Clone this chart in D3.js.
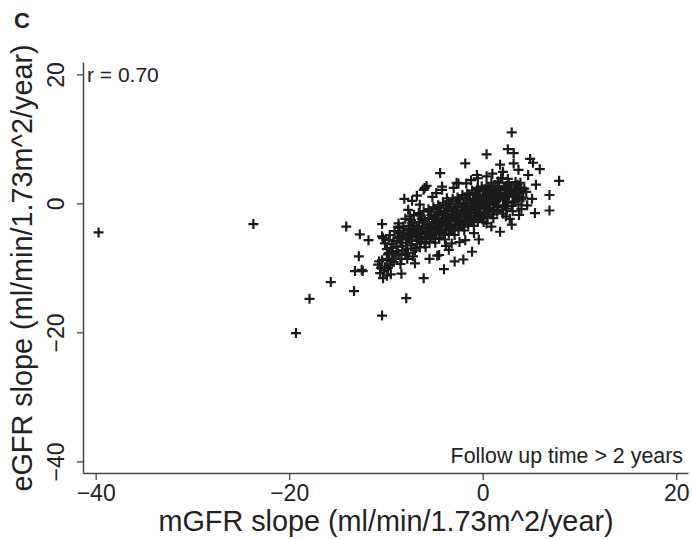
<!DOCTYPE html>
<html lang="en">
<head>
<meta charset="UTF-8">
<title>eGFR vs mGFR slope</title>
<script src="https://d3js.org/d3.v7.min.js"></script>
<style>
  body { margin: 0; background: #fff; }
  svg text { font-family: "Liberation Sans", Arial, sans-serif; fill: #222; }
</style>
</head>
<body>
<div id="chart"></div>
<script>
// [mGFR slope, eGFR slope] pairs
const sparsePoints = [
  [-39.7,-4.5],[-23.7,-3.2],[-19.3,-20.1],[-17.9,-14.8],[-15.7,-12.2],[-14.1,-3.6],
  [-12.7,-4.8],[-11.8,-5.7],[-12.8,-8.2],[-13.2,-10.5],[-12.4,-10.5],[-13.3,-13.6],
  [-10.4,-17.4],[-7.9,-14.7],[-6.1,-11.6],[-8.4,-10.9],[-10.4,-3.2],[-10.4,-5.1],
  [-9.9,-7.1],[-10.8,-9.5],[-10.6,-10.8],[-10.3,-11.6],[-9.8,-10.0],[-8.7,-3.8],
  [-4.0,-10.2],[-4.5,-8.0],[-2.0,-8.7],[-1.1,-7.5],[3.0,11.0],[2.6,8.4],[3.2,7.8],
  [4.9,6.9],[5.2,6.3],[5.9,5.3],[4.7,4.4],[3.2,6.2],[3.7,5.2],[1.8,6.0],[2.1,4.9],
  [7.9,3.5],[5.5,2.9],[6.9,1.3],[5.1,0.7],[3.9,2.1],[4.0,0.6],[5.4,-1.5],[6.9,-1.1],
  [0.4,7.6],[-1.8,6.2],[-5.8,2.7],[-4.4,4.7],[-2.7,3.2],[-0.5,3.9],[-8.1,0.7],
  [-7.3,0.4],[-7.7,-1.0],[-4.2,2.1],[1.8,-4.4],[0.4,-3.1],[2.4,-2.0],[2.3,-0.4],
  [-8.5,-9.4],[-7.2,-8.2],[-7.0,-9.3],[-4.7,-8.1],[-9.7,-7.7],[-8.7,-7.8],[-6.1,2.1],
  [-6.5,-0.2],[-8.7,-3.6],[-8.7,-4.6],[-10.4,-8.8],[-12.5,-10.3],[-0.6,4.4],[0.4,4.2],
  [-2.5,3.1],[-1.7,3.1],[-4.2,2.6],[-6.0,2.4],[-4.8,1.6],[2.0,3.9],[-3.7,0.8],
  [-0.5,2.4],[0.8,2.1],[-3.2,-6.2],[-1.8,-5.7],[3.75,-1.8],[3.0,-3.3],[-2.9,-9.0],
  [-9.5,-11.0],[-10.1,-9.9],[-9.2,-9.1],[-5.5,-8.6],[-3.5,-7.2],[-0.4,-5.6],
  [-10.7,-9.0],[-10.2,-10.4],[-10.5,-10.0],[-9.9,-11.2],
  [-6.8,1.2],[-5.2,1.0],[-3.0,2.4],[-1.2,3.6],[1.0,4.6],[-7.8,-8.6],
  [-3.8,-6.6],[-2.4,-6.0],[-0.9,-4.6],[0.9,-3.6],[2.8,-2.4],[4.6,-0.3],[4.5,1.8]
];

const densePoints = [
  [-10.1,-6.2],[-9.8,-7.9],[-10.3,-5.4],[-9.6,-4.9],[-9.9,-8.6],
  [-9.2,-5.8],[-8.9,-6.7],[-9.1,-4.3],[-8.8,-7.4],[-9.4,-6.3],[-8.6,-5.2],[-9.0,-8.1],[-8.7,-3.1],
  [-8.2,-5.0],[-7.9,-6.1],[-8.1,-4.2],[-7.8,-7.0],[-8.4,-5.6],[-7.6,-3.5],[-8.0,-8.0],[-7.7,-5.3],
  [-8.3,-6.6],[-7.5,-4.6],[-8.0,-2.4],
  [-7.2,-4.4],[-6.9,-5.2],[-7.1,-3.6],[-6.8,-6.3],[-7.3,-5.8],[-6.6,-2.9],[-7.0,-7.3],[-6.7,-4.1],
  [-7.4,-2.6],[-6.5,-5.6],[-7.1,-1.8],[-6.9,-6.9],[-7.3,-4.9],
  [-6.2,-3.8],[-5.9,-4.6],[-6.1,-3.0],[-5.8,-5.5],[-6.3,-4.3],[-5.6,-2.3],[-6.0,-6.2],[-5.7,-3.4],
  [-6.4,-1.9],[-5.5,-4.9],[-6.1,-1.2],[-5.9,-6.8],[-6.3,-5.2],[-5.6,-3.9],[-6.0,-2.7],
  [-5.2,-3.1],[-4.9,-4.0],[-5.1,-2.4],[-4.8,-4.8],[-5.3,-3.6],[-4.6,-1.7],[-5.0,-5.5],[-4.7,-2.9],
  [-5.4,-1.3],[-4.5,-4.3],[-5.1,-0.6],[-4.9,-6.1],[-5.3,-4.5],[-4.6,-3.4],[-5.0,-2.0],[-4.8,-0.9],[-5.2,-5.0],
  [-4.2,-2.5],[-3.9,-3.3],[-4.1,-1.8],[-3.8,-4.2],[-4.3,-3.0],[-3.6,-1.1],[-4.0,-4.9],[-3.7,-2.2],
  [-4.4,-0.7],[-3.5,-3.7],[-4.1,0.1],[-3.9,-5.6],[-4.3,-3.9],[-3.6,-2.8],[-4.0,-1.4],[-3.8,-0.3],[-4.2,-4.4],
  [-3.2,-1.9],[-2.9,-2.7],[-3.1,-1.2],[-2.8,-3.5],[-3.3,-2.3],[-2.6,-0.5],[-3.0,-4.2],[-2.7,-1.6],
  [-3.4,-0.1],[-2.5,-3.0],[-3.1,0.7],[-2.9,-4.9],[-3.3,-3.3],[-2.6,-2.1],[-3.0,-0.8],[-2.8,0.3],[-3.2,-3.8],
  [-2.2,-1.3],[-1.9,-2.0],[-2.1,-0.6],[-1.8,-2.9],[-2.3,-1.7],[-1.6,0.1],[-2.0,-3.6],[-1.7,-1.0],
  [-2.4,0.6],[-1.5,-2.4],[-2.1,1.3],[-1.9,-4.2],[-2.3,-2.6],[-1.6,-1.5],[-2.0,-0.2],[-1.8,0.9],[-2.2,-3.1],
  [-1.2,-0.6],[-0.9,-1.4],[-1.1,0.1],[-0.8,-2.2],[-1.3,-1.0],[-0.6,0.8],[-1.0,-2.9],[-0.7,-0.3],
  [-1.4,1.3],[-0.5,-1.7],[-1.1,2.0],[-0.9,-3.5],[-1.3,-1.9],[-0.6,-0.9],[-1.0,0.5],[-0.8,1.6],[-1.2,-2.5],
  [-0.2,0.0],[0.1,-0.8],[-0.1,0.7],[0.2,-1.6],[-0.3,-0.4],[0.4,1.4],[0.0,-2.3],[0.3,0.3],
  [-0.4,1.9],[0.5,-1.1],[-0.1,2.6],[0.1,-2.9],[-0.3,-1.3],[0.4,-0.3],[0.0,1.1],[0.2,2.2],[-0.2,-1.9],
  [0.8,0.6],[1.1,-0.2],[0.9,1.3],[1.2,-1.0],[0.7,0.2],[1.4,2.0],[1.0,-1.7],[1.3,0.9],
  [0.6,2.5],[1.5,-0.5],[0.9,3.2],[1.1,-2.3],[0.7,-0.7],[1.4,0.3],[1.0,1.7],[1.2,2.8],
  [1.8,1.3],[2.1,0.5],[1.9,2.0],[2.2,-0.3],[1.7,0.9],[2.4,2.7],[2.0,-1.0],[2.3,1.6],
  [1.6,3.2],[2.5,0.2],[1.9,3.9],[2.1,-1.6],[2.4,1.0],
  [2.8,1.9],[3.1,1.1],[2.9,2.6],[3.2,0.3],[2.7,1.5],[3.4,3.3],[3.0,-0.4],[3.3,2.2],
  [2.6,3.8],[3.5,0.8],[3.1,-1.2],
  [3.8,2.5],[4.1,1.7],[3.9,3.2],[4.2,0.9],[3.7,-0.2],[4.3,2.3],[4.0,-0.9]
];

// second pass over the packed core, between the first set
const corePoints = [
  [-9.5,-6.9],[-9.3,-7.6],[-9.7,-5.7],[-9.4,-8.9],[-9.6,-9.6],
  [-8.5,-6.1],[-8.6,-4.5],[-8.3,-7.3],[-8.4,-8.6],[-8.8,-5.4],[-8.2,-3.6],
  [-7.5,-5.6],[-7.6,-4.0],[-7.4,-6.5],[-7.7,-7.7],[-7.3,-3.1],[-7.8,-4.8],[-7.5,-2.0],
  [-6.5,-4.8],[-6.6,-3.5],[-6.4,-6.0],[-6.7,-5.1],[-6.3,-2.4],[-6.8,-3.9],[-6.5,-6.8],[-6.6,-1.5],
  [-5.5,-4.2],[-5.6,-2.9],[-5.4,-5.3],[-5.7,-4.5],[-5.3,-1.8],[-5.8,-3.3],[-5.5,-6.0],[-5.6,-0.9],
  [-4.5,-3.5],[-4.6,-2.2],[-4.4,-4.7],[-4.7,-3.8],[-4.3,-1.2],[-4.8,-2.6],[-4.5,-5.4],[-4.6,-0.3],
  [-3.5,-2.8],[-3.6,-1.6],[-3.4,-4.0],[-3.7,-3.1],[-3.3,-0.6],[-3.8,-1.9],[-3.5,-4.7],[-3.6,0.3],
  [-2.5,-2.2],[-2.6,-1.0],[-2.4,-3.4],[-2.7,-2.5],[-2.3,0.0],[-2.8,-1.3],[-2.5,-4.0],[-2.6,0.9],
  [-1.5,-1.5],[-1.6,-0.3],[-1.4,-2.7],[-1.7,-1.8],[-1.3,0.6],[-1.8,-0.6],[-1.5,-3.3],[-1.6,1.5],
  [-0.5,-0.8],[-0.6,0.4],[-0.4,-2.0],[-0.7,-1.1],[-0.3,1.2],[-0.8,0.1],[-0.5,-2.6],[-0.6,2.1],
  [0.5,-0.1],[0.4,1.0],[0.6,-1.3],[0.3,-0.5],[0.7,1.8],[0.2,0.8],[0.5,-2.0],[0.4,2.7],
  [1.5,0.9],[1.4,1.6],[1.6,-0.6],[1.3,0.1],[1.7,2.4],[1.2,1.4],[1.5,-1.3],[1.6,3.4],
  [2.5,1.5],[2.4,2.2],[2.6,0.1],[2.3,0.7],[2.7,3.0],[2.2,2.6],[2.5,-0.8],
  [3.5,2.0],[3.4,1.3],[3.6,2.9],[3.3,0.2],[3.7,1.0]
];

const xTicks = [-40, -20, 0, 20];
const yTicks = [-40, -20, 0, 20];
const xTitle = "mGFR slope (ml/min/1.73m^2/year)";
const yTitle = "eGFR slope (ml/min/1.73m^2/year)";
const panelLabel = "C";
const rLabel = "r = 0.70";
const noteLabel = "Follow up time > 2 years";

const W = 692, H = 539;
const svg = d3.select("#chart").append("svg")
  .attr("width", W).attr("height", H);

const x = d3.scaleLinear().domain([-41.31, 21.22]).range([83, 688]);
const y = d3.scaleLinear().domain([-41.8, 21.92]).range([473, 62]);

const axisColor = "#444";

// x axis
const gx = svg.append("g").attr("transform", `translate(0,473)`)
  .call(d3.axisBottom(x).tickValues(xTicks).tickSizeOuter(0).tickSizeInner(7).tickPadding(4));
gx.select(".domain").attr("stroke", axisColor).attr("stroke-width", 1.5);
gx.selectAll(".tick line").attr("stroke", axisColor).attr("stroke-width", 1.3);
gx.selectAll(".tick text").attr("font-size", 23).attr("fill", "#222")
  .attr("font-family", "Liberation Sans, Arial, sans-serif").attr("dy", "0.75em");

// y axis
const gy = svg.append("g").attr("transform", `translate(83,0)`)
  .call(d3.axisLeft(y).tickValues(yTicks).tickSizeOuter(0).tickSizeInner(6));
gy.select(".domain").attr("stroke", axisColor).attr("stroke-width", 1.5);
gy.selectAll(".tick line").attr("stroke", axisColor).attr("stroke-width", 1.3);
gy.selectAll(".tick text")
  .attr("font-size", 23).attr("fill", "#222")
  .attr("font-family", "Liberation Sans, Arial, sans-serif")
  .attr("x", null).attr("dy", null)
  .attr("text-anchor", "middle")
  .attr("transform", "translate(-19,0) rotate(-90)");

// points
const cross = "M-5,0H5M0,-5V5";
svg.append("g").selectAll("path")
  .data(sparsePoints.concat(densePoints, corePoints))
  .join("path")
  .attr("d", cross)
  .attr("transform", d => `translate(${x(d[0])},${y(d[1])})`)
  .attr("stroke", "#1a1a1a")
  .attr("stroke-width", 2.2)
  .attr("fill", "none");

// titles and labels
svg.append("text").attr("x", 386).attr("y", 531)
  .attr("text-anchor", "middle").attr("font-size", 28.8).text(xTitle);

svg.append("text")
  .attr("transform", "translate(32,268) rotate(-90)")
  .attr("text-anchor", "middle").attr("font-size", 28.8).text(yTitle);

svg.append("text").attr("x", 14).attr("y", 28)
  .attr("font-size", 22).attr("font-weight", "bold").text(panelLabel);

svg.append("text").attr("x", 87).attr("y", 82)
  .attr("font-size", 21).text(rLabel);

svg.append("text").attr("x", 683).attr("y", 463)
  .attr("text-anchor", "end").attr("font-size", 21.4).text(noteLabel);
</script>
</body>
</html>
